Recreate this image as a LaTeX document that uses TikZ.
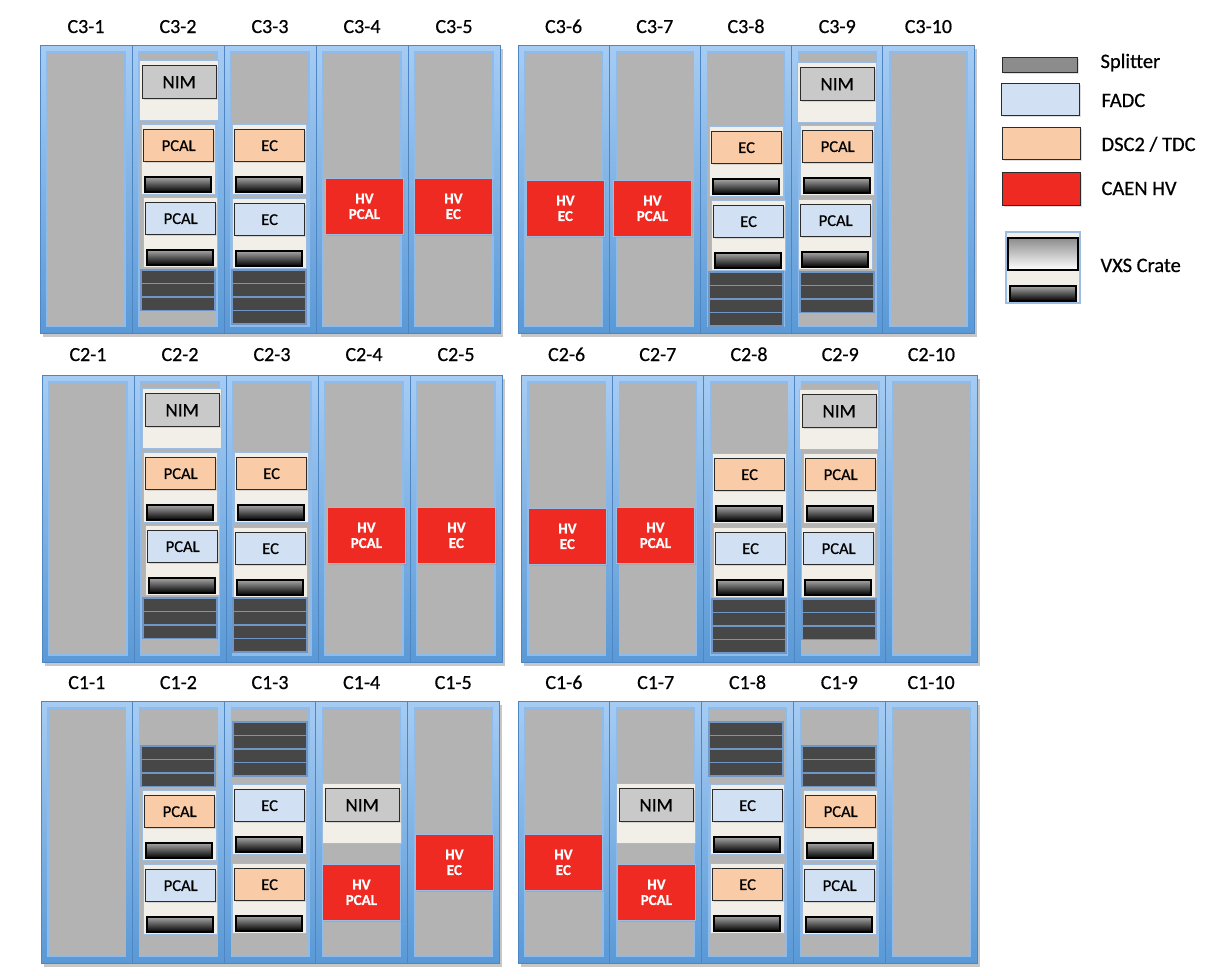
\documentclass[tikz,border=0pt]{standalone}
\usepackage{fontspec}
\setmainfont{Carlito}[FakeBold=0.6]
\usetikzlibrary{shadows}
\definecolor{frameT}{HTML}{A6CCF3}
\definecolor{frameB}{HTML}{5A99D6}
\definecolor{frameD}{HTML}{4E86C3}
\definecolor{rackgray}{HTML}{B3B3B3}
\definecolor{rim}{HTML}{8CBBEC}
\definecolor{panel}{HTML}{F2EFE9}
\definecolor{panelrim}{HTML}{9CBCE2}
\definecolor{nimgray}{HTML}{C9C9C9}
\definecolor{dscor}{HTML}{F9CBA6}
\definecolor{fadcbl}{HTML}{D1E1F3}
\definecolor{hvred}{HTML}{EE2A23}
\definecolor{slab}{HTML}{474747}
\definecolor{slabline}{HTML}{6F96C4}
\definecolor{boxline}{HTML}{2B2B2B}
\tikzset{
  colframe/.style={draw=frameD, line width=0.8pt, top color=frameT, bottom color=frameB},
  colinner/.style={fill=rackgray, draw=rim, line width=1.4pt},
  panelbox/.style={fill=panel, draw=panelrim, line width=1pt},
  modbox/.style={draw=boxline, line width=1.3pt, minimum width=70pt, minimum height=32pt,
    anchor=north west, inner sep=0pt, font=\fontsize{16.5}{16.5}\selectfont,
    drop shadow={opacity=0.25, shadow xshift=1.5pt, shadow yshift=-1.5pt}},
  nimbox/.style={modbox, fill=nimgray, minimum width=74pt, minimum height=33pt, font=\fontsize{19}{19}\selectfont},
  barbox/.style={draw=black, line width=1.2pt, top color=black!35, bottom color=black},
  slabst/.style={fill=slab, draw=slabline, line width=1.2pt},
  hvbox/.style={fill=hvred, draw=panelrim, line width=0.8pt, minimum width=78pt, minimum height=56pt,
    anchor=north west, inner sep=0pt, text=white, align=center,
    font=\fontsize{15}{15.5}\selectfont\bfseries,
    drop shadow={opacity=0.2, shadow xshift=1.5pt, shadow yshift=-1.5pt}},
  collabel/.style={anchor=base, font=\fontsize{20}{20}\selectfont},
  leglabel/.style={anchor=base west, font=\fontsize{20.5}{20.5}\selectfont},
}
% row of five columns: x0, y0, width, height, row no., first index, label baseline
\newcommand\rackrow[7]{%
  \fill[black, opacity=0.22] (#1+3,#2+4) rectangle (#1+5*#3+3,#2+#4+4);
  \foreach \ii in {0,...,4} {
    \pgfmathsetmacro\rrcx{#1+\ii*#3}
    \pgfmathtruncatemacro\rrcn{#6+\ii}
    \draw[colframe] (\rrcx,#2) rectangle ++(#3,#4);
    \draw[colinner] (\rrcx+7,#2+7) rectangle (\rrcx+#3-7,#2+#4-7);
    \node[collabel] (lab-#5-\rrcn) at (\rrcx+#3/2,#7) {C#5-\rrcn};
  }%
}
% module panel: x, y, colour, text, name
\newcommand\vxsmod[5]{%
  \draw[panelbox] (#1,#2) rectangle ++(74,70);
  \node[modbox, fill=#3] (#5) at (#1+2,#2+5) {#4};
  \draw[barbox] (#1+4,#2+53) rectangle ++(66,15);
}
% NIM crate: x, y, name
\newcommand\nimmod[3]{%
  \draw[panelbox] (#1,#2) rectangle ++(79,60);
  \node[nimbox] (#3) at (#1+2.5,#2+5) {NIM};
}
% slabs: x, y, count
\newcommand\slabs[3]{%
  \foreach \kk in {1,...,#3} {\draw[slabst] (#1,#2+\kk*13.5-13.5) rectangle ++(74,13.5);}%
}
\begin{document}
\begin{tikzpicture}[x=1pt, y=-1pt]
\useasboundingbox[fill=white] (0,0) rectangle (1210,975);
% ---------------- racks ----------------
\rackrow{40}{45}{92}{288}{3}{1}{33}
\rackrow{518}{45}{91.2}{288}{3}{6}{33}
\rackrow{42}{375}{92}{287}{2}{1}{361}
\rackrow{521}{375}{91.2}{287}{2}{6}{361}
\rackrow{41}{701}{91.6}{262}{1}{1}{689}
\rackrow{518}{701}{91.8}{262}{1}{6}{689}
% ---------------- row C3 ----------------
\nimmod{139}{60}{nim32}
\vxsmod{141}{124}{dscor}{PCAL}{d32}
\vxsmod{143}{197}{fadcbl}{PCAL}{f32}
\slabs{141}{270}{3}
\vxsmod{232}{124}{dscor}{EC}{d33}
\vxsmod{232}{198}{fadcbl}{EC}{f33}
\slabs{232}{270}{4}
\node[hvbox] (hv34) at (325,178) {HV\\PCAL};
\node[hvbox] (hv35) at (414,178) {HV\\EC};
\node[hvbox] (hv36) at (526,180) {HV\\EC};
\node[hvbox] (hv37) at (613,180) {HV\\PCAL};
\vxsmod{709}{126}{dscor}{EC}{d38}
\vxsmod{711}{200}{fadcbl}{EC}{f38}
\slabs{709}{272}{4}
\nimmod{797}{62}{nim39}
\vxsmod{800}{125}{dscor}{PCAL}{d39}
\vxsmod{798}{199}{fadcbl}{PCAL}{f39}
\slabs{800}{272}{3}
% ---------------- row C2 ----------------
\nimmod{142}{388}{nim22}
\vxsmod{143}{452}{dscor}{PCAL}{d22}
\vxsmod{145}{525}{fadcbl}{PCAL}{f22}
\slabs{143}{598}{3}
\vxsmod{234}{452}{dscor}{EC}{d23}
\vxsmod{233}{527}{fadcbl}{EC}{f23}
\slabs{233}{598}{4}
\node[hvbox] (hv24) at (327,507) {HV\\PCAL};
\node[hvbox] (hv25) at (417,507) {HV\\EC};
\node[hvbox] (hv26) at (528,508) {HV\\EC};
\node[hvbox] (hv27) at (616,507) {HV\\PCAL};
\vxsmod{712}{453}{dscor}{EC}{d28}
\vxsmod{713}{527}{fadcbl}{EC}{f28}
\slabs{712}{599}{4}
\nimmod{799}{389}{nim29}
\vxsmod{803}{453}{dscor}{PCAL}{d29}
\vxsmod{801}{527}{fadcbl}{PCAL}{f29}
\slabs{802}{599}{3}
% ---------------- row C1 ----------------
\slabs{141}{746}{3}
\vxsmod{142}{790}{dscor}{PCAL}{d12}
\vxsmod{143}{864}{fadcbl}{PCAL}{f12}
\slabs{233}{722}{4}
\vxsmod{232}{784}{fadcbl}{EC}{f13}
\vxsmod{232}{863}{dscor}{EC}{d13}
\nimmod{322}{783}{nim14}
\node[hvbox] (hv14) at (322,864) {HV\\PCAL};
\node[hvbox] (hv15) at (415,834) {HV\\EC};
\node[hvbox] (hv16) at (524,834) {HV\\EC};
\nimmod{616}{783}{nim17}
\node[hvbox] (hv17) at (617,864) {HV\\PCAL};
\slabs{709}{722}{4}
\vxsmod{710}{784}{fadcbl}{EC}{f18}
\vxsmod{710}{863}{dscor}{EC}{d18}
\slabs{802}{746}{3}
\vxsmod{803}{790}{dscor}{PCAL}{d19}
\vxsmod{802}{864}{fadcbl}{PCAL}{f19}
% ---------------- legend ----------------
\node[modbox, fill=black!45, minimum width=75pt, minimum height=15pt] (legsplit) at (1002,57) {};
\node[leglabel] (legsplitt) at (1097,68) {Splitter};
\node[modbox, fill=fadcbl, minimum width=78pt, minimum height=32pt] (legfadc) at (1001,83) {};
\node[leglabel] (legfadct) at (1098,107) {FADC};
\node[modbox, fill=dscor, minimum width=78pt, minimum height=32pt] (legdsc) at (1002,127) {};
\node[leglabel] (legdsct) at (1098,151) {DSC2 / TDC};
\node[modbox, fill=hvred, minimum width=78pt, minimum height=33pt] (leghv) at (1002,172) {};
\node[leglabel] (leghvt) at (1098,195) {CAEN HV};
\draw[panelbox, line width=1.2pt] (1006,232) rectangle (1080,303);
\draw[draw=black, line width=1.2pt, top color=black!45, bottom color=white] (1008,238) rectangle (1078,270);
\draw[barbox] (1010,286) rectangle (1076,301);
\node[leglabel] (legvxst) at (1097,272) {VXS Crate};
\end{tikzpicture}
\end{document}
